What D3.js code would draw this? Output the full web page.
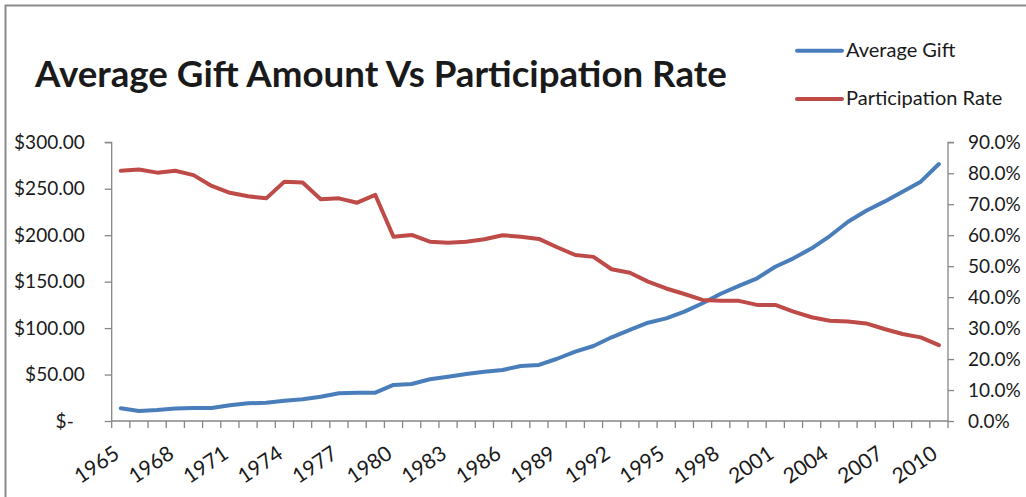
<!DOCTYPE html>
<html>
<head>
<meta charset="utf-8">
<script src="https://cdn.jsdelivr.net/npm/d3@7"></script>
<style>
  body { margin: 0; background: #fff; }
  svg { display: block; }
  text { font-family: Lato, "Open Sans", sans-serif; fill: #1a1a1a; }
</style>
</head>
<body>
<div id="chart"></div>
<script>
// data
const years = d3.range(1965, 2011)
const avgGift = [13.7, 10.8, 11.8, 13.5, 14, 14, 16.9, 19, 19.7, 21.9, 23.4, 26.2,
  29.8, 30.5, 30.5, 38.8, 39.8, 44.9, 47.7, 50.6, 53.1, 54.9, 59.2, 60.3,
  67, 74.6, 80.7, 90.1, 98, 105.8, 110.5, 117.7, 126.7, 137, 145.5, 153.6,
  166.1, 175.1, 185.9, 199.1, 214.5, 226.4, 236.1, 246.8, 257.6, 276.6]
const partRate = [80.8, 81.2, 80.2, 80.8, 79.4, 75.9, 73.7, 72.6, 71.9, 77.3, 77.0, 71.6,
  71.9, 70.5, 73.0, 59.5, 60.1, 57.9, 57.6, 57.9, 58.7, 60.0, 59.5, 58.8,
  56.1, 53.6, 53.0, 49.0, 47.9, 45.0, 42.8, 41.0, 39.1, 38.8, 38.8, 37.5,
  37.5, 35.3, 33.5, 32.4, 32.1, 31.5, 29.7, 28.1, 27.0, 24.5]
const giftTicks = [0, 50, 100, 150, 200, 250, 300]
const rateTicks = [0, 10, 20, 30, 40, 50, 60, 70, 80, 90]
const yearLabels = d3.range(1965, 2011, 3)
const seriesNames = ["Average Gift", "Participation Rate"]
const colors = ["#4a7ebb", "#be4b48"]

const width = 1026, height = 497
const plot = {left: 111.7, right: 948, top: 142.3, bottom: 421}

const svg = d3.select("#chart").append("svg")
  .attr("width", width)
  .attr("height", height)

// chart area border (right and bottom fall outside the picture)
svg.append("rect")
  .attr("x", 5.5).attr("y", 5.5)
  .attr("width", width + 20).attr("height", height + 20)
  .attr("fill", "none")
  .attr("stroke", "#8c8c8c")
  .attr("stroke-width", 2)

const x = d3.scaleBand().domain(years).range([plot.left, plot.right]).padding(0)
const yL = d3.scaleLinear().domain([0, 300]).range([plot.bottom, plot.top])
const yR = d3.scaleLinear().domain([0, 90]).range([plot.bottom, plot.top])

const axisColor = "#868686"

// left axis
const gL = svg.append("g")
  .attr("transform", "translate(" + plot.left + ",0)")
  .call(d3.axisLeft(yL).tickValues(giftTicks).tickSize(7).tickPadding(20)
    .tickFormat(d => d === 0 ? "$-" : "$" + d3.format(".2f")(d)))
gL.selectAll("text").attr("font-size", 19)
  .attr("dx", d => d === 0 ? -11 : 0)

// right axis
const gR = svg.append("g")
  .attr("transform", "translate(" + plot.right + ",0)")
  .call(d3.axisRight(yR).tickValues(rateTicks).tickSize(6).tickPadding(14)
    .tickFormat(d => d3.format(".1f")(d) + "%"))
gR.selectAll("text").attr("font-size", 19)

// bottom axis, ticks between categories
const gB = svg.append("g")
  .attr("transform", "translate(0," + plot.bottom + ")")
gB.append("line")
  .attr("x1", plot.left).attr("x2", plot.right)
gB.selectAll("line.tk")
  .data(years.concat([2011]))
  .join("line")
  .attr("class", "tk")
  .attr("x1", d => d === 2011 ? plot.right : x(d))
  .attr("x2", d => d === 2011 ? plot.right : x(d))
  .attr("y1", 0).attr("y2", 7)
gB.selectAll("text")
  .data(yearLabels)
  .join("text")
  .attr("transform", d => "translate(" + (x(d) + x.bandwidth() / 2) + ",36) rotate(-34)")
  .attr("text-anchor", "end")
  .attr("font-size", 21)
  .text(d => d)

svg.selectAll(".domain, .tick line, g line")
  .attr("stroke", axisColor).attr("stroke-width", 1.3)
gL.select(".domain").attr("d", "M-7," + plot.top + "H0V" + plot.bottom)
gR.select(".domain").attr("d", "M6," + plot.top + "H0V" + plot.bottom)

// lines
const cx = (d, i) => x(years[i]) + x.bandwidth() / 2
svg.append("path")
  .datum(avgGift)
  .attr("fill", "none")
  .attr("stroke", colors[0])
  .attr("stroke-width", 4)
  .attr("stroke-linejoin", "round")
  .attr("stroke-linecap", "round")
  .attr("d", d3.line().x(cx).y(d => yL(d)))
svg.append("path")
  .datum(partRate)
  .attr("fill", "none")
  .attr("stroke", colors[1])
  .attr("stroke-width", 4)
  .attr("stroke-linejoin", "round")
  .attr("stroke-linecap", "round")
  .attr("d", d3.line().x(cx).y(d => yR(d)))

// title, fitted to the reference width
const title = svg.append("text")
  .attr("x", 35).attr("y", 87)
  .attr("font-size", 36)
  .attr("font-weight", "bold")
  .text("Average Gift Amount Vs Participation Rate")
const tw = title.node().getComputedTextLength()
title.attr("font-size", 36 * 692 / tw)

// legend
const leg = svg.append("g")
leg.selectAll("line")
  .data(seriesNames)
  .join("line")
  .attr("x1", 797).attr("x2", 842)
  .attr("y1", (d, i) => 50.7 + i * 48.3)
  .attr("y2", (d, i) => 50.7 + i * 48.3)
  .attr("stroke", (d, i) => colors[i])
  .attr("stroke-width", 4)
  .attr("stroke-linecap", "round")
leg.selectAll("text")
  .data(seriesNames)
  .join("text")
  .attr("x", 846)
  .attr("y", (d, i) => 57 + i * 48.3)
  .attr("font-size", 20)
  .text(d => d)
</script>
</body>
</html>
